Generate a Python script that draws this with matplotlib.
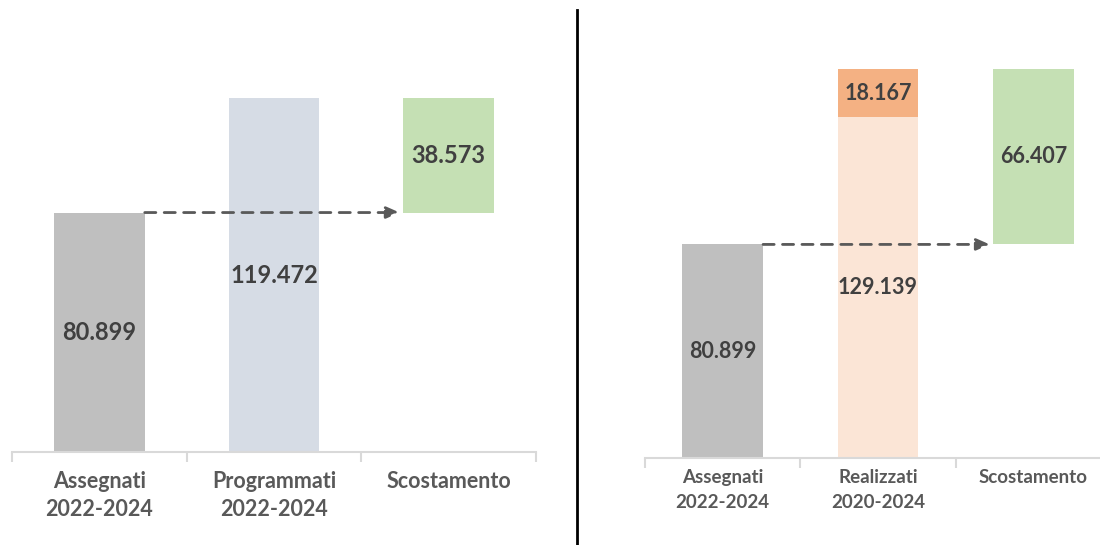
import matplotlib
matplotlib.use("Agg")
import matplotlib.pyplot as plt
from matplotlib.ticker import FixedLocator

plt.rcParams['font.family'] = ['Lato', 'DejaVu Sans']

# ---- data ----
left_categories = ["Assegnati\n2022-2024", "Programmati\n2022-2024", "Scostamento"]
left_assegnati = 80.899
left_programmati = 119.472
left_scostamento = 38.573

right_categories = ["Assegnati\n2022-2024", "Realizzati\n2020-2024", "Scostamento"]
right_assegnati = 80.899
right_realizzati_base = 129.139
right_realizzati_extra = 18.167
right_scostamento = 66.407

GRAY = "#bfbfbf"
BLUEGRAY = "#d6dce5"
GREEN = "#c5e0b4"
PEACH = "#fbe5d6"
ORANGE = "#f4b183"
TXT = "#404040"
LBL = "#595959"
AXC = "#d9d9d9"

W, H = 1100, 545
fig = plt.figure(figsize=(11, 5.45), dpi=100)


def px_axes(x0, x1, ybot, ytop):
    return fig.add_axes([x0 / W, 1 - ybot / H, (x1 - x0) / W, (ybot - ytop) / H])


def style(ax, cats, fs, pad, ls):
    ax.set_xlim(-0.5, 2.5)
    for s in ["left", "right", "top"]:
        ax.spines[s].set_visible(False)
    ax.spines["bottom"].set_color(AXC)
    ax.spines["bottom"].set_linewidth(1.5)
    ax.set_yticks([])
    ax.set_xticks([0, 1, 2])
    ax.set_xticklabels(cats, fontsize=fs, color=LBL, fontweight="bold", linespacing=ls)
    ax.tick_params(axis="x", which="major", length=0, pad=pad)
    ax.xaxis.set_minor_locator(FixedLocator([-0.5, 0.5, 1.5, 2.5]))
    ax.tick_params(axis="x", which="minor", length=7, width=1.5, color=AXC, direction="out")
    ax.set_facecolor("none")


def arrow(ax, y, bw):
    ax.annotate("", xy=(2 - bw / 2 - 0.02, y), xytext=(bw / 2, y),
                arrowprops=dict(arrowstyle="-|>,head_length=0.8,head_width=0.35", color="#595959",
                                lw=2, linestyle=(0, (4, 3)), shrinkA=0, shrinkB=0))


bw = 0.52

# ---- left panel ----
axL = px_axes(12, 536, 452, 10)
axL.set_ylim(0, 442 / 2.96)
style(axL, left_categories, 15.5, 14, 1.4)
axL.bar(0, left_assegnati, width=bw, color=GRAY)
axL.bar(1, left_programmati, width=bw, color=BLUEGRAY)
axL.bar(2, left_scostamento, width=bw, bottom=left_assegnati, color=GREEN)
arrow(axL, left_assegnati, bw)
vfsL = 17
axL.text(0, left_assegnati / 2, f"{left_assegnati:.3f}", ha="center", va="center",
         fontsize=vfsL, fontweight="bold", color=TXT)
axL.text(1, left_programmati / 2, f"{left_programmati:.3f}", ha="center", va="center",
         fontsize=vfsL, fontweight="bold", color=TXT)
axL.text(2, left_assegnati + left_scostamento / 2, f"{left_scostamento:.3f}", ha="center",
         va="center", fontsize=vfsL, fontweight="bold", color=TXT)

# ---- right panel ----
axR = px_axes(645, 1111, 458, 10)
axR.set_ylim(0, 448 / 2.64)
style(axR, right_categories, 13.5, 8, 1.55)
axR.bar(0, right_assegnati, width=bw, color=GRAY)
axR.bar(1, right_realizzati_base, width=bw, color=PEACH)
axR.bar(1, right_realizzati_extra, width=bw, bottom=right_realizzati_base, color=ORANGE)
axR.bar(2, right_scostamento, width=bw, bottom=right_assegnati, color=GREEN)
arrow(axR, right_assegnati, bw)
vfsR = 15.5
axR.text(0, right_assegnati / 2, f"{right_assegnati:.3f}", ha="center", va="center",
         fontsize=vfsR, fontweight="bold", color=TXT)
axR.text(1, right_realizzati_base / 2, f"{right_realizzati_base:.3f}", ha="center", va="center",
         fontsize=vfsR, fontweight="bold", color=TXT)
axR.text(1, right_realizzati_base + right_realizzati_extra / 2, f"{right_realizzati_extra:.3f}",
         ha="center", va="center", fontsize=vfsR, fontweight="bold", color=TXT)
axR.text(2, right_assegnati + right_scostamento / 2, f"{right_scostamento:.3f}", ha="center",
         va="center", fontsize=vfsR, fontweight="bold", color=TXT)

# separator line
fig.add_artist(plt.Line2D([577 / W, 577 / W], [0, 1 - 10 / H], transform=fig.transFigure,
                          color="black", lw=2))

fig.savefig("out.png", dpi=100)
